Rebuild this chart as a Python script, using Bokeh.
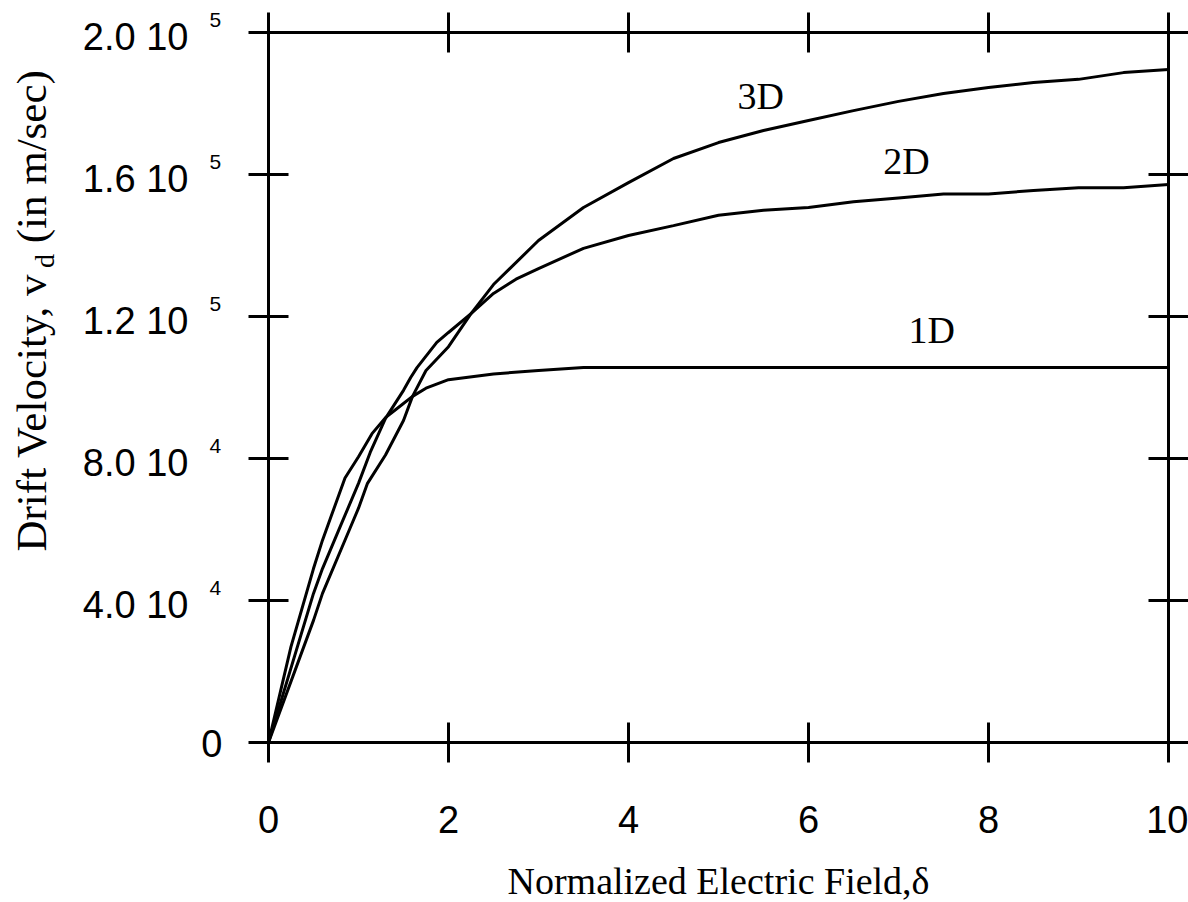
import math
from bokeh.plotting import figure
from bokeh.layouts import row, column
from bokeh.models import Range1d, LinearAxis, FixedTicker, CustomJSTickFormatter
from bokeh.core.properties import value
from bokeh.embed import file_html
from bokeh.resources import INLINE

# ---------------- data ----------------
x_1d = [0, 0.25, 0.5, 0.6, 0.7, 0.85, 1.0, 1.15, 1.3, 1.45, 1.6, 1.75, 2.0, 2.5, 3.0, 3.5,
        4.0, 5.0, 6.0, 7.0, 8.0, 9.0, 10.0]
v_1d = [0, 27000, 49000, 57000, 64000, 74500, 80500, 87000, 91500, 94500, 97500, 99800, 102200,
        103800, 104800, 105600, 105600, 105600, 105600, 105600, 105600, 105600, 105600]

x_2d = [0, 0.5, 0.6, 0.8, 1.0, 1.13, 1.3, 1.5, 1.58, 1.65, 1.87, 2.0, 2.25, 2.5, 2.75, 3.0,
        3.5, 4.0, 4.5, 5.0, 5.5, 6.0, 6.5, 7.0, 7.5, 8.0, 8.5, 9.0, 9.5, 10.0]
v_2d = [0, 42000, 49000, 61000, 73000, 81700, 91300, 99200, 102800, 105600, 112700, 115500,
        120800, 126500, 130500, 133500, 139200, 142800, 145600, 148500, 149900, 150700, 152300,
        153400, 154500, 154500, 155500, 156300, 156300, 157200]

x_3d = [0, 0.5, 0.6, 0.9, 1.0, 1.1, 1.3, 1.5, 1.6, 1.75, 2.0, 2.25, 2.5, 3.0, 3.5, 4.0, 4.5,
        5.0, 5.5, 6.0, 6.5, 7.0, 7.5, 8.0, 8.5, 9.0, 9.5, 10.0]
v_3d = [0, 34400, 42000, 60000, 66000, 73000, 81000, 90700, 97500, 104800, 111500, 120800,
        129000, 141400, 150700, 157700, 164500, 169000, 172400, 175200, 178000, 180600, 182800,
        184500, 185900, 186800, 188700, 189600]

x_ticks = [0, 2, 4, 6, 8, 10]
y_ticks = [0, 40000, 80000, 120000, 160000, 200000]
y_tick_mantissa = ["0", "4.0 10", "8.0 10", "1.2 10", "1.6 10", "2.0 10"]
y_tick_exponent = ["", "4", "4", "5", "5", "5"]

curve_names = ["3D", "2D", "1D"]
curve_label_x = [5.21, 6.83, 7.11]
curve_label_y = [182000, 163900, 116100]

x_title = "Normalized Electric Field,\u03b4"
y_title_main = "Drift Velocity, v"
y_title_sub = "d"
y_title_tail = "(in m/sec)"

SANS = "Liberation Sans"
SERIF = "Liberation Serif"

# ---------------- layout constants (pixels) ----------------
W, H = 1188, 902
LEFT_W = 248            # strip holding y tick labels and y title
BOTTOM_H = 54           # strip holding x title
MAIN_W = W - LEFT_W
MAIN_H = H - BOTTOM_H
FRAME_T = 32
FRAME_H = 710
FRAME_B = FRAME_T + FRAME_H
Y0, Y1 = 0, 200000
K = (Y1 - Y0) / FRAME_H    # data units per pixel


def ydata(py):
    return Y0 + (FRAME_B - py) * K


def bare(fig):
    fig.outline_line_color = None
    fig.xgrid.visible = False
    fig.ygrid.visible = False
    fig.background_fill_color = "white"
    fig.border_fill_color = "white"


# ---------------- main plot ----------------
p = figure(width=MAIN_W, height=MAIN_H,
           x_range=Range1d(0, 10), y_range=Range1d(Y0, Y1),
           output_backend="svg", toolbar_location=None,
           min_border_left=20, min_border_right=20, min_border_top=FRAME_T,
           min_border_bottom=MAIN_H - FRAME_B,
           x_axis_location=None, y_axis_location=None)
bare(p)


def style_axis(ax, show_labels):
    ax.axis_line_width = 3
    ax.axis_line_color = "black"
    ax.major_tick_line_width = 3
    ax.major_tick_line_color = "black"
    ax.major_tick_in = 20
    ax.major_tick_out = 20
    ax.minor_tick_line_color = None
    if not show_labels:
        ax.formatter = CustomJSTickFormatter(code="return ''")
        ax.major_label_standoff = 0
        ax.major_label_text_font_size = "1px"


xb = LinearAxis(ticker=FixedTicker(ticks=x_ticks))
style_axis(xb, True)
xb.major_label_text_font = SANS
xb.major_label_text_font_size = "38px"
xb.major_label_text_color = "black"
xb.major_label_standoff = 43
p.add_layout(xb, "below")

for side in ["left", "right"]:
    ax = LinearAxis(ticker=FixedTicker(ticks=y_ticks))
    style_axis(ax, False)
    p.add_layout(ax, side)

xt = LinearAxis(ticker=FixedTicker(ticks=x_ticks))
style_axis(xt, False)
p.add_layout(xt, "above")

for xs, vs in [(x_1d, v_1d), (x_2d, v_2d), (x_3d, v_3d)]:
    p.line(xs, vs, line_width=3, line_color="black")

p.text(x=curve_label_x, y=curve_label_y, text=curve_names,
       text_font=value(SERIF), text_font_size="38px", text_color="black",
       text_align="left", text_baseline="middle")

# ---------------- left strip: y tick labels + y title ----------------
lf = figure(width=LEFT_W, height=H, x_range=Range1d(0, LEFT_W),
            y_range=Range1d(ydata(H), ydata(0)),
            output_backend="svg", toolbar_location=None, min_border=0,
            x_axis_location=None, y_axis_location=None)
bare(lf)

mant_t = [t for t, e in zip(y_ticks, y_tick_exponent) if e]
mant_s = [m for m, e in zip(y_tick_mantissa, y_tick_exponent) if e]
exps = [e for e in y_tick_exponent if e]
zero_t = [t for t, e in zip(y_ticks, y_tick_exponent) if not e]
zero_s = [m for m, e in zip(y_tick_mantissa, y_tick_exponent) if not e]

MANT_DROP = 4     # px the mantissa sits below its tick
SUP_RAISE = 13    # px the exponent sits above its tick
lf.text(x=[188] * len(mant_t), y=[t - MANT_DROP * K for t in mant_t], text=mant_s,
        text_font=value(SANS), text_font_size="38px", text_color="black",
        text_align="right", text_baseline="middle")
lf.text(x=[222] * len(zero_t), y=[t - 1 * K for t in zero_t], text=zero_s,
        text_font=value(SANS), text_font_size="38px", text_color="black",
        text_align="right", text_baseline="middle")
lf.text(x=[209] * len(mant_t), y=[t + SUP_RAISE * K for t in mant_t], text=exps,
        text_font=value(SANS), text_font_size="21px", text_color="black",
        text_align="left", text_baseline="middle")

FS = 43
FS_SUB = 28
w_main = 6.638 * FS - 2
w_sub = 0.5 * FS_SUB
w_space = 0.25 * FS
start_py = 551
base_x = 46          # baseline of the rotated title
mid_shift = 0.34     # distance (em) from baseline to "middle"
lf.text(x=[base_x - mid_shift * FS], y=[ydata(start_py)], text=[y_title_main], angle=math.pi / 2,
        text_font=value(SERIF), text_font_size=f"{FS}px", text_color="black",
        text_align="left", text_baseline="middle")
lf.text(x=[base_x + 8 - mid_shift * FS_SUB], y=[ydata(start_py - w_main)], text=[y_title_sub],
        angle=math.pi / 2,
        text_font=value(SERIF), text_font_size=f"{FS_SUB}px", text_color="black",
        text_align="left", text_baseline="middle")
lf.text(x=[base_x - mid_shift * FS], y=[ydata(start_py - w_main - w_sub - w_space)],
        text=[y_title_tail], angle=math.pi / 2,
        text_font=value(SERIF), text_font_size=f"{FS}px", text_color="black",
        text_align="left", text_baseline="middle")

# ---------------- bottom strip: x title ----------------
bf = figure(width=MAIN_W, height=BOTTOM_H, x_range=p.x_range, y_range=Range1d(0, BOTTOM_H),
            output_backend="svg", toolbar_location=None,
            min_border_left=20, min_border_right=20, min_border_top=0, min_border_bottom=0,
            x_axis_location=None, y_axis_location=None)
bare(bf)
bf.text(x=[5], y=[H - 880.5], text=[x_title], text_font=value(SERIF), text_font_size="38px",
        text_color="black", text_align="center", text_baseline="middle")

layout = row(lf, column(p, bf))
open("out.html", "w").write(file_html(layout, INLINE))
